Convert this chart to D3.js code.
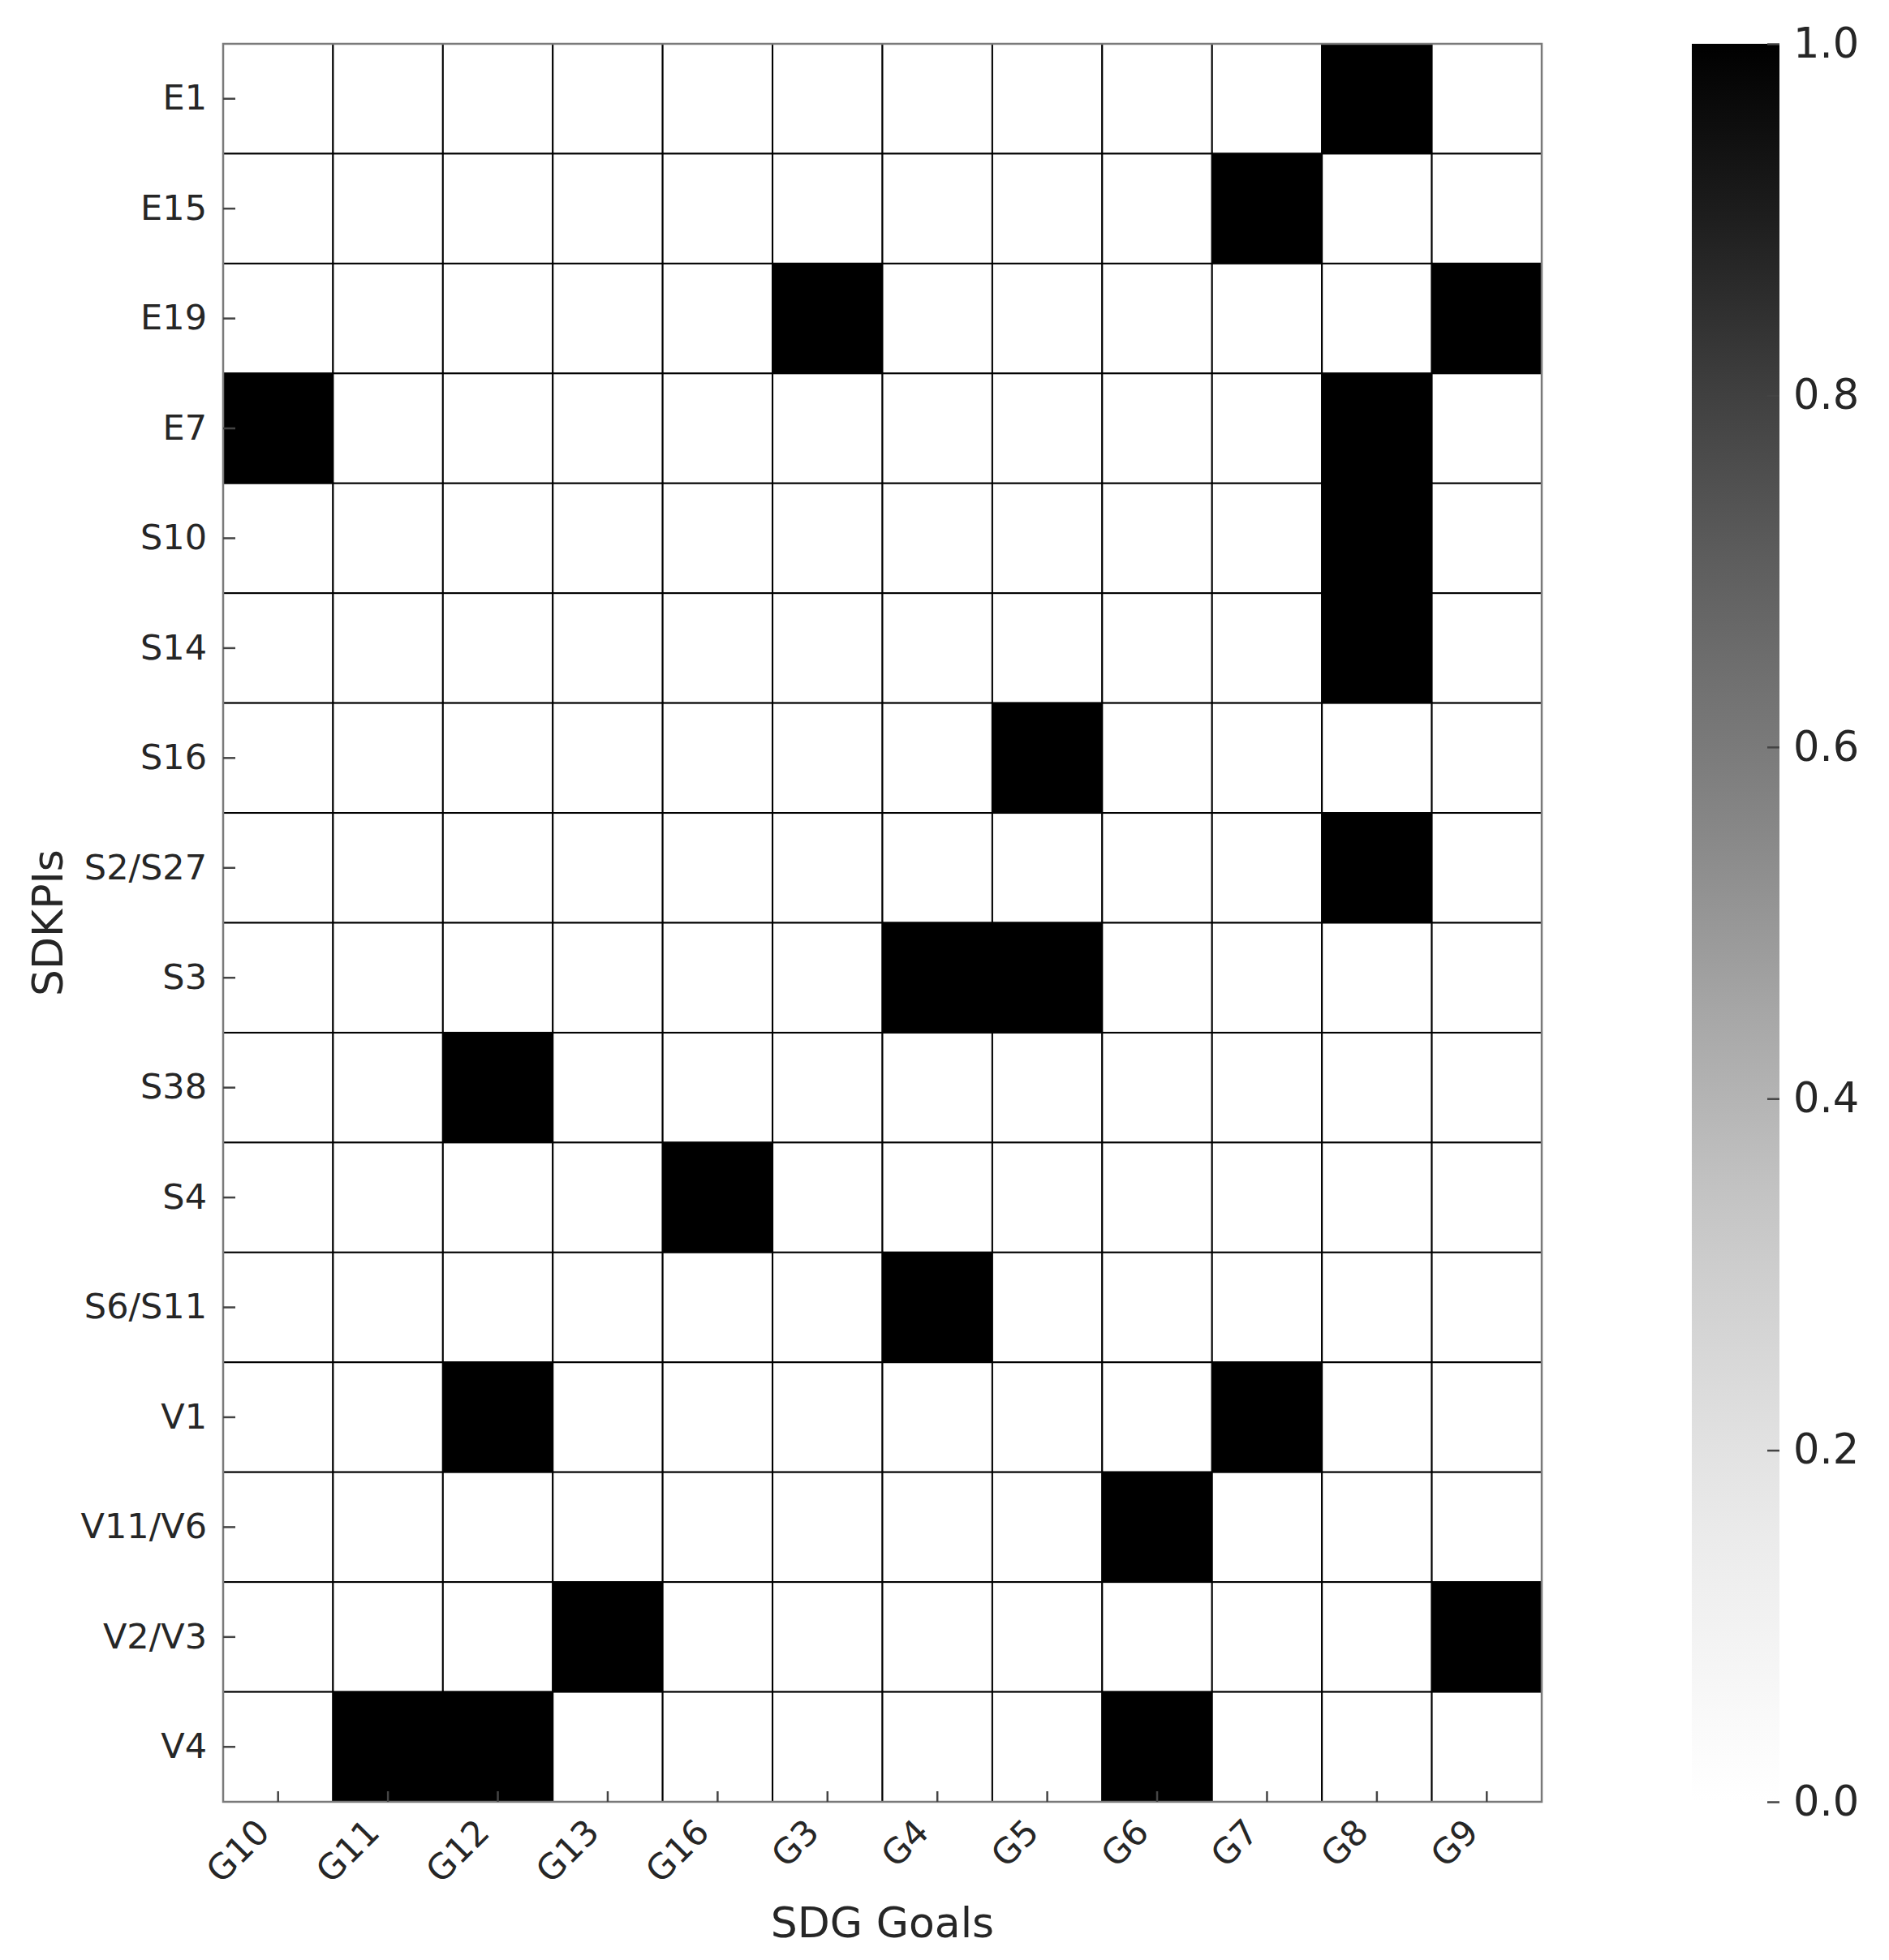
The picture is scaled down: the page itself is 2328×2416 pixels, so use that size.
<!DOCTYPE html>
<html>
<head>
<meta charset="utf-8">
<script src="https://cdn.jsdelivr.net/npm/d3@7"></script>
<style>
  body { margin: 0; background: #fff; }
  text { font-family: "DejaVu Sans", sans-serif; fill: #262626; }
</style>
</head>
<body>
<div id="chart"></div>
<script>
// rows (SDKPIs) top to bottom
const kpis = ["E1", "E15", "E19", "E7", "S10", "S14", "S16", "S2/S27", "S3", "S38", "S4", "S6/S11", "V1", "V11/V6", "V2/V3", "V4"];
// columns (SDG goals)
const goals = ["G10", "G11", "G12", "G13", "G16", "G3", "G4", "G5", "G6", "G7", "G8", "G9"];
// 1 = linked, 0 = not linked; one row per KPI, in goal order
const links = [
    [0, 0, 0, 0, 0, 0, 0, 0, 0, 0, 1, 0],
    [0, 0, 0, 0, 0, 0, 0, 0, 0, 1, 0, 0],
    [0, 0, 0, 0, 0, 1, 0, 0, 0, 0, 0, 1],
    [1, 0, 0, 0, 0, 0, 0, 0, 0, 0, 1, 0],
    [0, 0, 0, 0, 0, 0, 0, 0, 0, 0, 1, 0],
    [0, 0, 0, 0, 0, 0, 0, 0, 0, 0, 1, 0],
    [0, 0, 0, 0, 0, 0, 0, 1, 0, 0, 0, 0],
    [0, 0, 0, 0, 0, 0, 0, 0, 0, 0, 1, 0],
    [0, 0, 0, 0, 0, 0, 1, 1, 0, 0, 0, 0],
    [0, 0, 1, 0, 0, 0, 0, 0, 0, 0, 0, 0],
    [0, 0, 0, 0, 1, 0, 0, 0, 0, 0, 0, 0],
    [0, 0, 0, 0, 0, 0, 1, 0, 0, 0, 0, 0],
    [0, 0, 1, 0, 0, 0, 0, 0, 0, 1, 0, 0],
    [0, 0, 0, 0, 0, 0, 0, 0, 1, 0, 0, 0],
    [0, 0, 0, 1, 0, 0, 0, 0, 0, 0, 0, 1],
    [0, 1, 1, 0, 0, 0, 0, 0, 1, 0, 0, 0]
];
const colorbarTicks = [0, 0.2, 0.4, 0.6, 0.8, 1.0];

const W = 2328, H = 2416;
const plotLeft = 275, plotRight = 1900, plotTop = 54, plotBottom = 2221;
const cbLeft = 2085, cbRight = 2193;

const svg = d3.select("#chart").append("svg")
    .attr("width", W)
    .attr("height", H);

const x = d3.scaleBand().domain(goals).range([plotLeft, plotRight]);
const y = d3.scaleBand().domain(kpis).range([plotTop, plotBottom]);
const color = d3.scaleSequential(d3.interpolateGreys).domain([0, 1]);

// flatten matrix into cells
const cells = [];
links.forEach((row, i) => row.forEach((v, j) => cells.push({kpi: kpis[i], goal: goals[j], v: v})));

svg.append("g")
    .selectAll("rect")
    .data(cells)
    .enter()
    .append("rect")
    .attr("x", d => x(d.goal))
    .attr("y", d => y(d.kpi))
    .attr("width", x.bandwidth())
    .attr("height", y.bandwidth())
    .style("fill", d => color(d.v))
    .style("stroke", "#000")
    .style("stroke-width", 2);

// spines
svg.append("rect")
    .attr("x", plotLeft)
    .attr("y", plotTop)
    .attr("width", plotRight - plotLeft)
    .attr("height", plotBottom - plotTop)
    .style("fill", "none")
    .style("stroke", "#7a7a7a")
    .style("stroke-width", 2.5);

// y axis, ticks pointing in
const yAxis = svg.append("g")
    .attr("transform", `translate(${plotLeft},0)`)
    .call(d3.axisLeft(y).tickSize(-15).tickPadding(20));
yAxis.select(".domain").remove();
yAxis.selectAll("line").style("stroke", "#444").style("stroke-width", 2.5);
yAxis.selectAll("text").style("font-size", "43px").style("fill", "#262626");

// x axis, ticks pointing in, labels rotated
const xAxis = svg.append("g")
    .attr("transform", `translate(0,${plotBottom})`)
    .call(d3.axisBottom(x).tickSize(-13));
xAxis.select(".domain").remove();
xAxis.selectAll("line").style("stroke", "#444").style("stroke-width", 2.5);
xAxis.selectAll("text")
    .attr("y", 0)
    .attr("dy", 0)
    .attr("text-anchor", "end")
    .attr("transform", "translate(-8,40) rotate(-45)")
    .style("font-size", "43px")
    .style("fill", "#262626");

svg.append("text")
    .text("SDG Goals")
    .attr("x", (plotLeft + plotRight) / 2)
    .attr("y", 2388)
    .attr("text-anchor", "middle")
    .style("font-size", "52px");

svg.append("text")
    .text("SDKPIs")
    .attr("transform", `translate(77,${(plotTop + plotBottom) / 2}) rotate(-90)`)
    .attr("text-anchor", "middle")
    .style("font-size", "52px");

// colorbar
const grad = svg.append("defs").append("linearGradient")
    .attr("id", "cb")
    .attr("x1", 0).attr("y1", 1).attr("x2", 0).attr("y2", 0);
grad.selectAll("stop")
    .data(d3.range(0, 1.0001, 0.05))
    .enter()
    .append("stop")
    .attr("offset", d => d)
    .attr("stop-color", d => color(d));

svg.append("rect")
    .attr("x", cbLeft)
    .attr("y", plotTop)
    .attr("width", cbRight - cbLeft)
    .attr("height", plotBottom - plotTop)
    .style("fill", "url(#cb)");

const cbScale = d3.scaleLinear().domain([0, 1]).range([plotBottom, plotTop]);
const cbAxis = svg.append("g")
    .attr("transform", `translate(${cbRight},0)`)
    .call(d3.axisRight(cbScale).tickValues(colorbarTicks).tickFormat(d3.format(".1f")).tickSize(-15).tickPadding(17));
cbAxis.select(".domain").remove();
cbAxis.selectAll("line").style("stroke", "#444").style("stroke-width", 2.5);
cbAxis.selectAll("text").style("font-size", "51px").style("fill", "#262626");
</script>
</body>
</html>
